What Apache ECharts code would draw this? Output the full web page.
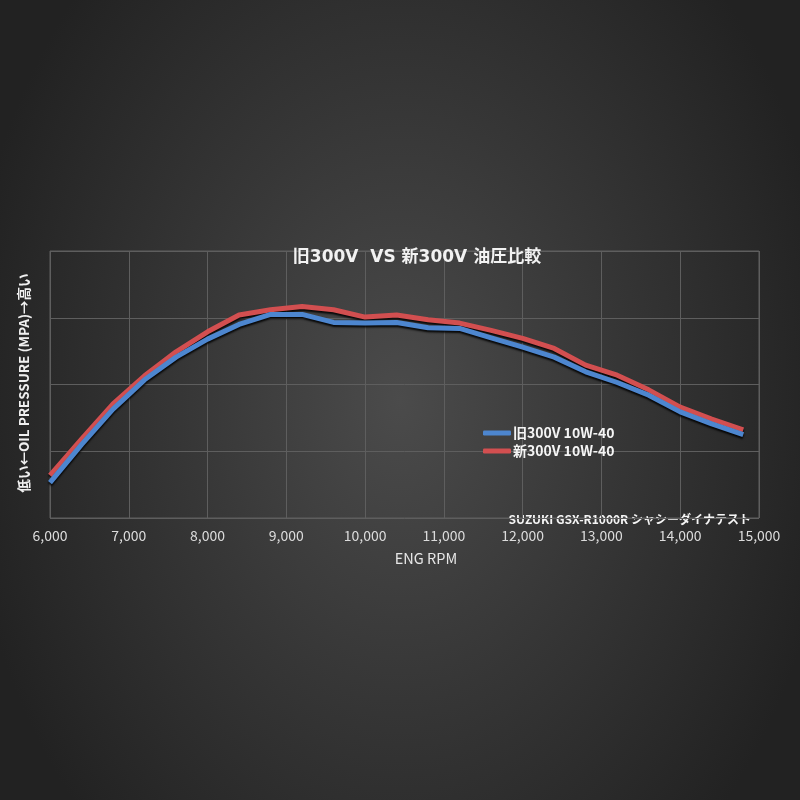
<!DOCTYPE html>
<html><head><meta charset="utf-8">
<script src="https://cdn.jsdelivr.net/npm/echarts@6/dist/echarts.min.js"></script>
<style>
html,body{margin:0;padding:0;width:800px;height:800px;overflow:hidden;
background:radial-gradient(ellipse 55% 75% at 50% 50%, #4b4b4b 0%, #363636 50%, #222 100%);}
#c{width:800px;height:800px;}
</style></head><body><div id="c"></div>
<script>
const rpm = [6000,6400,6800,7200,7600,8000,8400,8800,9200,9600,10000,10400,10800,11200,11600,12000,12400,12800,13200,13600,14000,14400,14800];
const oldOil = [0.53,1.10,1.63,2.07,2.41,2.68,2.90,3.05,3.05,2.93,2.92,2.93,2.85,2.84,2.70,2.56,2.41,2.19,2.03,1.84,1.59,1.41,1.25];
const newOil = [0.64,1.18,1.71,2.13,2.49,2.79,3.04,3.12,3.17,3.12,3.01,3.04,2.97,2.92,2.81,2.69,2.54,2.29,2.14,1.92,1.66,1.48,1.32];
const xTicks = [6000,7000,8000,9000,10000,11000,12000,13000,14000,15000];
const seriesNames = ['旧300V 10W-40','新300V 10W-40'];
const titleText = '旧300V  VS 新300V 油圧比較';
const yName = '低い←OIL PRESSURE (MPA)→高い';
const xName = 'ENG RPM';
const note = 'SUZUKI GSX-R1000R シャシーダイナテスト';

const font = '"Noto Sans CJK JP","Noto Sans",sans-serif';
const wideFont = '"DejaVu Sans","Noto Sans CJK JP",sans-serif';
const chart = echarts.init(document.getElementById('c'));
const mk = (arr) => rpm.map((r,i)=>[r,arr[i]]);
chart.setOption({
  backgroundColor:'transparent',
  textStyle:{fontFamily:font},
  animation:false,
  title:{text:titleText,left:412,top:244,textAlign:'center',
    textStyle:{color:'#f2f2f2',fontSize:17,fontWeight:'bold',fontFamily:wideFont}},
  grid:{left:50,right:41,top:251,bottom:282,show:true,borderColor:'#5e5e5e',borderWidth:1},
  legend:{orient:'vertical',left:478,top:421,itemWidth:28,itemHeight:5,itemGap:4,icon:'roundRect',
    textStyle:{color:'#f5f5f5',fontSize:14,fontWeight:'bold',fontFamily:font,padding:[0,0,0,-3]},
    data:seriesNames},
  xAxis:{type:'value',min:6000,max:15000,interval:1000,
    axisLine:{show:false},axisTick:{show:false},
    splitLine:{show:true,lineStyle:{color:'#5e5e5e',width:1}},
    axisLabel:{color:'#dcdcdc',fontSize:14,margin:11,fontFamily:font,
      formatter:v=>xTicks.includes(v)?v.toLocaleString('en-US'):''}},
  yAxis:{type:'value',min:0,max:4,interval:1,
    axisLine:{show:false},axisTick:{show:false},axisLabel:{show:false},
    splitLine:{show:true,lineStyle:{color:'#5e5e5e',width:1}}},
  graphic:[
    {type:'text',x:426,y:558,style:{text:xName,fill:'#e6e6e6',font:'14.5px '+font,align:'center',verticalAlign:'middle'}},
    {type:'text',x:751,y:519,style:{text:note,fill:'#f5f5f5',font:'bold 12px '+font,align:'right',verticalAlign:'middle'}},
    {type:'text',x:24,y:383,rotation:Math.PI/2,style:{text:yName,fill:'#f0f0f0',font:'bold 13.5px '+font,align:'center',verticalAlign:'middle'}}
  ],
  series:[
    {name:seriesNames[0],type:'line',data:mk(oldOil),showSymbol:false,symbol:'none',z:3,
      color:'#4d86cf',
      lineStyle:{color:'#4d86cf',width:5,shadowColor:'rgba(0,0,0,0.9)',shadowBlur:2,shadowOffsetY:2}},
    {name:seriesNames[1],type:'line',data:mk(newOil),showSymbol:false,symbol:'none',z:2,
      color:'#d24f50',
      lineStyle:{color:'#d24f50',width:5,shadowColor:'rgba(0,0,0,0.9)',shadowBlur:2,shadowOffsetY:2}}
  ]
});
</script></body></html>
